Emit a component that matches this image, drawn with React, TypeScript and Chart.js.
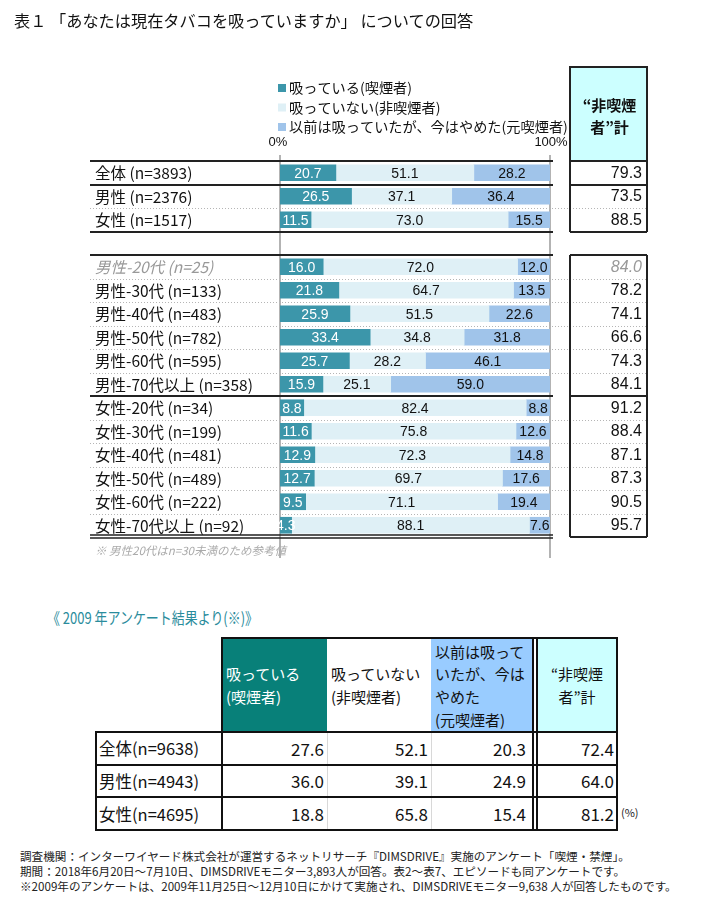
import React, { useEffect, useRef } from 'react';
import { Chart, registerables } from 'chart.js';

Chart.register(...registerables);

// ---------- Data (2018 survey) ----------
const categories = [
  '全体 (n=3893)',
  '男性 (n=2376)',
  '女性 (n=1517)',
  '',
  '男性-20代 (n=25)',
  '男性-30代 (n=133)',
  '男性-40代 (n=483)',
  '男性-50代 (n=782)',
  '男性-60代 (n=595)',
  '男性-70代以上 (n=358)',
  '女性-20代 (n=34)',
  '女性-30代 (n=199)',
  '女性-40代 (n=481)',
  '女性-50代 (n=489)',
  '女性-60代 (n=222)',
  '女性-70代以上 (n=92)',
];
const smokers = [20.7, 26.5, 11.5, null, 16.0, 21.8, 25.9, 33.4, 25.7, 15.9, 8.8, 11.6, 12.9, 12.7, 9.5, 4.3];
const nonSmokers = [51.1, 37.1, 73.0, null, 72.0, 64.7, 51.5, 34.8, 28.2, 25.1, 82.4, 75.8, 72.3, 69.7, 71.1, 88.1];
const formerSmokers = [28.2, 36.4, 15.5, null, 12.0, 13.5, 22.6, 31.8, 46.1, 59.0, 8.8, 12.6, 14.8, 17.6, 19.4, 7.6];
const nonSmokerTotals = [79.3, 73.5, 88.5, null, 84.0, 78.2, 74.1, 66.6, 74.3, 84.1, 91.2, 88.4, 87.1, 87.3, 90.5, 95.7];
const referenceRows = [4];
const seriesLabels = ['吸っている(喫煙者)', '吸っていない(非喫煙者)', '以前は吸っていたが、今はやめた(元喫煙者)'];
const axisTickValues = [0, 100];
const axisTickLabels = ['0%', '100%'];
const totalHeader = ['“非喫煙', '者”計'];
const noteText = '※ 男性20代はn=30未満のため参考値';
const titleText = '表１ 「あなたは現在タバコを吸っていますか」 についての回答';

// ---------- Data (2009 survey) ----------
const heading2009 = '《 2009 年アンケート結果より(※)》';
const rows2009 = ['全体(n=9638)', '男性(n=4943)', '女性(n=4695)'];
const smokers2009 = [27.6, 36.0, 18.8];
const nonSmokers2009 = [52.1, 39.1, 65.8];
const former2009 = [20.3, 24.9, 15.4];
const totals2009 = [72.4, 64.0, 81.2];
const header2009 = [
  ['吸っている', '(喫煙者)'],
  ['吸っていない', '(非喫煙者)'],
  ['以前は吸って', 'いたが、今は', 'やめた', '(元喫煙者)'],
  ['“非喫煙', '者”計'],
];
const footnotes = [
  '調査機関：インターワイヤード株式会社が運営するネットリサーチ『DIMSDRIVE』実施のアンケート「喫煙・禁煙」。',
  '期間：2018年6月20日～7月10日、DIMSDRIVEモニター3,893人が回答。表2～表7、エピソードも同アンケートです。',
  '※2009年のアンケートは、2009年11月25日～12月10日にかけて実施され、DIMSDRIVEモニター9,638 人が回答したものです。',
];

const COLORS = ['#3c96aa', '#dff0f6', '#a0c4ea'];
const JP = '"Noto Sans CJK JP", "Noto Sans", sans-serif';
const LAT = '"Liberation Sans", Arial, sans-serif';

const overlayPlugin = {
  id: 'overlay',
  beforeDatasetsDraw(chart: any) {
    const { ctx, chartArea, scales } = chart;
    const x = scales.x;
    ctx.save();
    ctx.strokeStyle = '#9a9a9a';
    ctx.lineWidth = 1.5;
    axisTickValues.forEach((v) => {
      const px = x.getPixelForValue(v);
      ctx.beginPath();
      ctx.moveTo(px, chartArea.top - 6);
      ctx.lineTo(px, chartArea.bottom + 21);
      ctx.stroke();
    });
    ctx.restore();
  },
  afterDatasetsDraw(chart: any) {
    const { ctx, chartArea, scales } = chart;
    const x = scales.x;
    const y = scales.y;
    const n = categories.length;
    const rowH = (chartArea.bottom - chartArea.top) / n;
    const boundary = (k: number) => (k < n ? y.getPixelForValue(k) - rowH / 2 : y.getPixelForValue(n - 1) + rowH / 2);
    ctx.save();

    // bar value labels
    ctx.textAlign = 'center';
    ctx.textBaseline = 'middle';
    ctx.font = `14px ${LAT}`;
    chart.data.datasets.forEach((ds: any, di: number) => {
      const meta = chart.getDatasetMeta(di);
      meta.data.forEach((el: any, i: number) => {
        const v = ds.data[i];
        if (v === null || v === undefined) return;
        ctx.fillStyle = di === 0 ? '#ffffff' : '#111111';
        ctx.fillText(v.toFixed(1), (el.x + el.base) / 2, el.y + 1);
      });
    });

    // row labels
    ctx.textAlign = 'left';
    categories.forEach((c, i) => {
      if (!c) return;
      const ref = referenceRows.includes(i);
      ctx.font = `${ref ? 'italic ' : ''}15.5px ${JP}`;
      ctx.fillStyle = ref ? '#999999' : '#111111';
      ctx.fillText(c, 95, y.getPixelForValue(i) + 0.5);
    });

    // right column values
    ctx.textAlign = 'right';
    nonSmokerTotals.forEach((v, i) => {
      if (v === null) return;
      const ref = referenceRows.includes(i);
      ctx.font = `${ref ? 'italic ' : ''}16px ${LAT}`;
      ctx.fillStyle = ref ? '#999999' : '#111111';
      ctx.fillText(v.toFixed(1), 642, y.getPixelForValue(i) + 0.5);
    });

    // table lines
    const L0 = 90, L1 = 553, R0 = 570, R1 = 647;
    const solid = [0, 1, 3, 4, 10];
    const dotted = [2, 5, 6, 7, 8, 9, 11, 12, 13, 14, 15];
    ctx.strokeStyle = '#b5b5b5';
    ctx.lineWidth = 1;
    ctx.setLineDash([1, 2]);
    dotted.forEach((k) => {
      const py = Math.round(boundary(k)) + 0.5;
      ctx.beginPath();
      ctx.moveTo(L0, py);
      ctx.lineTo(R1, py);
      ctx.stroke();
    });
    ctx.setLineDash([]);
    ctx.strokeStyle = '#222222';
    ctx.lineWidth = 2;
    const hline = (py: number) => {
      ctx.beginPath();
      ctx.moveTo(L0, py);
      ctx.lineTo(L1, py);
      ctx.moveTo(R0, py);
      ctx.lineTo(R1, py);
      ctx.stroke();
    };
    solid.forEach((k) => hline(Math.round(boundary(k))));
    const bottom = Math.round(boundary(n));
    ctx.lineWidth = 1.5;
    ctx.beginPath();
    ctx.moveTo(L0, bottom - 2);
    ctx.lineTo(L1, bottom - 2);
    ctx.moveTo(L0, bottom + 1);
    ctx.lineTo(L1, bottom + 1);
    ctx.stroke();
    ctx.lineWidth = 2;
    ctx.beginPath();
    ctx.moveTo(R0, bottom);
    ctx.lineTo(R1, bottom);
    ctx.stroke();
    // right column verticals
    const vseg = (a: number, b: number) => {
      [R0, R1].forEach((px) => {
        ctx.beginPath();
        ctx.moveTo(px, a);
        ctx.lineTo(px, b);
        ctx.stroke();
      });
    };
    vseg(Math.round(boundary(0)), Math.round(boundary(3)));
    vseg(Math.round(boundary(4)), bottom);

    // header box for totals
    const hTop = 67;
    ctx.fillStyle = '#ccffff';
    ctx.fillRect(R0, hTop, R1 - R0, Math.round(boundary(0)) - hTop);
    ctx.strokeRect(R0, hTop, R1 - R0, Math.round(boundary(0)) - hTop);
    ctx.fillStyle = '#111111';
    ctx.textAlign = 'center';
    ctx.font = `bold 15px ${JP}`;
    ctx.fillText(totalHeader[0], (R0 + R1) / 2 + 1, 105);
    ctx.fillText(totalHeader[1], (R0 + R1) / 2 + 1, 127.5);

    // axis tick labels
    ctx.font = `13px ${LAT}`;
    axisTickValues.forEach((v, i) => {
      ctx.fillText(axisTickLabels[i], x.getPixelForValue(v) + (i === 0 ? -2 : 1), 142);
    });

    // legend
    ctx.textAlign = 'left';
    ctx.font = `14.2px ${JP}`;
    const ly = [88, 107.5, 127];
    chart.data.datasets.forEach((ds: any, di: number) => {
      ctx.fillStyle = ds.backgroundColor;
      ctx.fillRect(278, ly[di] - 4, 8, 8);
      ctx.fillStyle = '#111111';
      ctx.fillText(ds.label, 289, ly[di]);
    });

    // note
    ctx.font = `italic 11.5px ${JP}`;
    ctx.fillStyle = '#aaaaaa';
    ctx.fillText(noteText, 95, 551);
    ctx.restore();
  },
};

function BarChart() {
  const ref = useRef<HTMLCanvasElement | null>(null);
  useEffect(() => {
    if (!ref.current) return;
    const chart = new Chart(ref.current, {
      type: 'bar',
      data: {
        labels: categories,
        datasets: [
          { label: seriesLabels[0], data: smokers, backgroundColor: COLORS[0], barThickness: 16, borderWidth: 0 },
          { label: seriesLabels[1], data: nonSmokers, backgroundColor: COLORS[1], barThickness: 16, borderWidth: 0 },
          { label: seriesLabels[2], data: formerSmokers, backgroundColor: COLORS[2], barThickness: 16, borderWidth: 0 },
        ] as any,
      },
      options: {
        indexAxis: 'y',
        responsive: false,
        animation: false,
        devicePixelRatio: 1,
        layout: { padding: { left: 280, right: 160, top: 161, bottom: 43 } },
        scales: {
          x: { stacked: true, min: 0, max: 100, display: false },
          y: { stacked: true, display: false },
        },
        plugins: { legend: { display: false }, tooltip: { enabled: false } },
      } as any,
      plugins: [overlayPlugin],
    });
    return () => chart.destroy();
  }, []);
  return <canvas ref={ref} width={710} height={580} style={{ position: 'absolute', left: 0, top: 0 }} />;
}

const abs = (l: number, t: number, w: number, h: number, extra: any = {}) => ({
  position: 'absolute' as const,
  left: l,
  top: t,
  width: w,
  height: h,
  boxSizing: 'border-box' as const,
  ...extra,
});

function Table2009() {
  const colL = [96, 222, 327, 431, 537];
  const colW = [126, 105, 104, 102, 80];
  const top = 638;
  const headH = 94;
  const rowH = (830 - 732) / 3;
  const bodyTop = top + headH;
  const bodyBottom = bodyTop + rowH * 3;
  const headBg = ['#088079', '#ffffff', '#99ccff', '#ccffff'];
  const headColor = ['#ffffff', '#111111', '#111111', '#111111'];
  const cols = [smokers2009, nonSmokers2009, former2009, totals2009];
  const line = (l: number, t: number, w: number, h: number, c = '#111') => (
    <div style={abs(l, t, w, h, { background: c })} />
  );
  return (
    <>
      {header2009.map((lines, ci) => (
        <div
          key={'h' + ci}
          style={abs(colL[ci + 1], top, colW[ci + 1], headH, {
            background: headBg[ci],
            color: headColor[ci],
            display: 'flex',
            flexDirection: 'column',
            justifyContent: 'center',
            alignItems: ci === 3 ? 'center' : 'flex-start',
            paddingLeft: ci === 3 ? 0 : 4,
            paddingTop: 2,
            font: `15px ${JP}`,
            lineHeight: '22.7px',
          })}
        >
          {lines.map((t, k) => (
            <div key={k} style={{ whiteSpace: 'nowrap' }}>{t}</div>
          ))}
        </div>
      ))}
      {rows2009.map((r, ri) => (
        <React.Fragment key={'r' + ri}>
          <div
            style={abs(colL[0], bodyTop + ri * rowH, colW[0], rowH, {
              display: 'flex',
              alignItems: 'center',
              paddingLeft: 3,
              font: `16.5px ${JP}`,
              color: '#111',
              whiteSpace: 'nowrap',
            })}
          >
            {r}
          </div>
          {cols.map((vals, ci) => (
            <div
              key={ci}
              style={abs(colL[ci + 1], bodyTop + ri * rowH, colW[ci + 1] - (ci === 2 ? 4 : 0), rowH, {
                display: 'flex',
                alignItems: 'center',
                justifyContent: 'flex-end',
                paddingRight: 3,
                font: `17px ${JP}`,
                color: '#111',
              })}
            >
              {vals[ri].toFixed(1)}
            </div>
          ))}
        </React.Fragment>
      ))}
      {/* value column separators */}
      {line(327, bodyTop, 1, bodyBottom - bodyTop, '#d8d8d8')}
      {line(431, bodyTop, 1, bodyBottom - bodyTop, '#d8d8d8')}
      {/* outer borders */}
      {line(221, top - 1, 397, 2)}
      {line(221, top - 1, 2, bodyBottom - top + 1)}
      {line(532, top - 1, 2, bodyBottom - top + 1)}
      {line(536, top - 1, 2, bodyBottom - top + 1)}
      {line(616, top - 1, 2, bodyBottom - top + 1)}
      {line(95, bodyTop - 1, 523, 2)}
      {line(95, bodyTop + rowH - 1, 523, 2)}
      {line(95, bodyTop + rowH * 2 - 1, 523, 2)}
      {line(95, bodyBottom - 1, 523, 2)}
      {line(95, bodyTop - 1, 2, bodyBottom - bodyTop + 1)}
      <div style={abs(621, 804, 30, 16, { font: `11px ${JP}`, color: '#222' })}>(%)</div>
    </>
  );
}

export default function App() {
  return (
    <div style={{ position: 'absolute', left: 0, top: 0, width: 710, height: 899, background: '#fff', overflow: 'hidden' }}>
      <BarChart />
      <div style={abs(14, 9, 600, 22, { font: `16.2px ${JP}`, color: '#111', whiteSpace: 'nowrap', lineHeight: '22px' })}>
        {titleText}
      </div>
      <div
        style={abs(47, 605, 400, 24, {
          font: `16px ${JP}`,
          color: '#2a8c9c',
          whiteSpace: 'nowrap',
          lineHeight: '24px',
          transform: 'scaleX(0.81)',
          transformOrigin: 'left center',
        })}
      >
        {heading2009}
      </div>
      <Table2009 />
      <div style={abs(20, 849, 690, 48, { font: `11.6px ${JP}`, color: '#222', lineHeight: '15px', whiteSpace: 'nowrap' })}>
        {footnotes.map((f, i) => (
          <div key={i}>{f}</div>
        ))}
      </div>
    </div>
  );
}
